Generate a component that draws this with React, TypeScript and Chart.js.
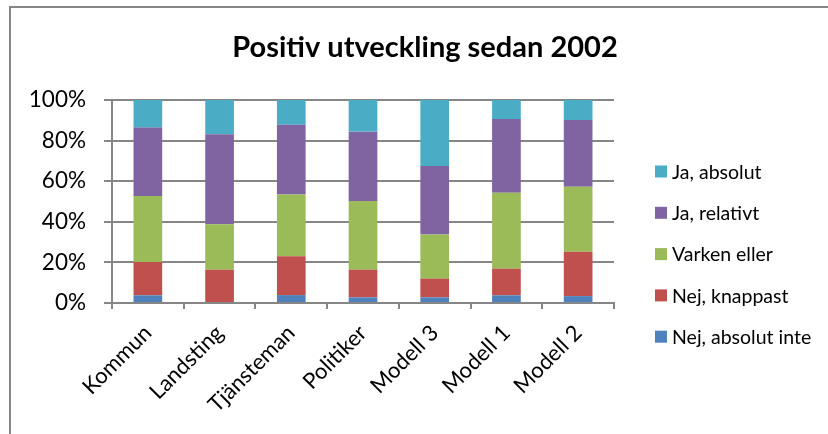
import React, { useEffect, useRef } from "react";
import { Chart, registerables } from "chart.js";

Chart.register(...registerables);

const categories = ["Kommun", "Landsting", "Tjänsteman", "Politiker", "Modell 3", "Modell 1", "Modell 2"];
const nejAbsolutInte = [3.8, 0, 3.9, 2.8, 2.8, 3.8, 3.4];
const nejKnappast = [16.4, 16.4, 19.1, 13.6, 9.2, 13.1, 21.9];
const varkenEller = [32.5, 22.4, 30.5, 33.8, 21.7, 37.4, 32.0];
const jaRelativt = [33.7, 44.3, 34.3, 34.2, 33.8, 36.3, 32.8];
const jaAbsolut = [13.6, 16.9, 12.2, 15.6, 32.5, 9.4, 9.9];
const yTicks = [0, 20, 40, 60, 80, 100];
const title = "Positiv utveckling sedan 2002";

const FONT = "Lato, 'Open Sans', sans-serif";

const series = [
  { label: "Nej, absolut inte", data: nejAbsolutInte, color: "#4F81BD" },
  { label: "Nej, knappast", data: nejKnappast, color: "#C0504D" },
  { label: "Varken eller", data: varkenEller, color: "#9BBB59" },
  { label: "Ja, relativt", data: jaRelativt, color: "#8064A2" },
  { label: "Ja, absolut", data: jaAbsolut, color: "#4BACC6" },
];

const framePlugin = {
  id: "frame",
  beforeDraw(chart: any) {
    const ctx = chart.ctx;
    ctx.save();
    ctx.fillStyle = "#ffffff";
    ctx.fillRect(0, 0, chart.width, chart.height);
    ctx.strokeStyle = "#878787";
    ctx.lineWidth = 2;
    ctx.beginPath();
    ctx.moveTo(10, chart.height + 2);
    ctx.lineTo(10, 7);
    ctx.lineTo(chart.width + 2, 7);
    ctx.stroke();
    ctx.restore();
  },
  afterDraw(chart: any) {
    const ctx = chart.ctx;
    ctx.save();
    // title
    ctx.fillStyle = "#000";
    ctx.font = `bold 29px ${FONT}`;
    ctx.textAlign = "center";
    ctx.textBaseline = "middle";
    ctx.fillText(title, 425, 48);
    // legend (reverse order, top = last series)
    const items = [...chart.data.datasets].reverse();
    const x0 = 655;
    const startY = 171.5;
    const step = 41.3;
    ctx.font = `19.5px ${FONT}`;
    ctx.textAlign = "left";
    items.forEach((ds: any, i: number) => {
      const cy = startY + i * step;
      ctx.fillStyle = ds.backgroundColor;
      ctx.fillRect(x0, cy - 6, 12, 12);
      ctx.fillStyle = "#000";
      ctx.fillText(ds.label, x0 + 17, cy + 1);
    });
    ctx.restore();
  },
};

export default function App() {
  const ref = useRef<HTMLCanvasElement | null>(null);
  useEffect(() => {
    document.body.style.margin = "0";
    const canvas = ref.current!;
    const chart = new Chart(canvas, {
      type: "bar",
      data: {
        labels: categories,
        datasets: series.map((s) => ({
          label: s.label,
          data: s.data,
          backgroundColor: s.color,
          borderWidth: 0,
          categoryPercentage: 1,
          barPercentage: 0.4,
        })),
      },
      options: {
        animation: false,
        responsive: false,
        devicePixelRatio: 1,
        layout: { padding: { top: 100, right: 214, left: 0, bottom: 0 } },
        plugins: {
          legend: { display: false },
          title: { display: false },
          tooltip: { enabled: false },
        },
        scales: {
          x: {
            stacked: true,
            afterFit: (scale: any) => {
              scale.height = 131;
            },
            border: { display: true, color: "#868686", width: 2 },
            grid: {
              display: true,
              drawOnChartArea: false,
              drawTicks: true,
              tickLength: 6,
              color: "#868686",
              lineWidth: 2,
              offset: true,
            },
            ticks: {
              color: "#000",
              font: { family: FONT, size: 22 },
              minRotation: 45,
              maxRotation: 45,
              padding: 11,
              autoSkip: false,
            },
          },
          y: {
            stacked: true,
            min: 0,
            max: 100,
            afterFit: (scale: any) => {
              scale.width = 112;
            },
            afterBuildTicks: (scale: any) => {
              scale.ticks = yTicks.map((v) => ({ value: v }));
            },
            border: { display: true, color: "#868686", width: 2 },
            grid: {
              color: "#868686",
              lineWidth: 2,
              drawTicks: true,
              tickLength: 8,
            },
            ticks: {
              color: "#000",
              font: { family: FONT, size: 22.5 },
              padding: 18,
              callback: (v: any) => `${v}%`,
            },
          },
        },
      },
      plugins: [framePlugin],
    });
    return () => chart.destroy();
  }, []);
  return (
    <div style={{ width: 828, height: 434, position: "relative" }}>
      <canvas ref={ref} width={828} height={434} style={{ width: 828, height: 434, display: "block" }} />
    </div>
  );
}
